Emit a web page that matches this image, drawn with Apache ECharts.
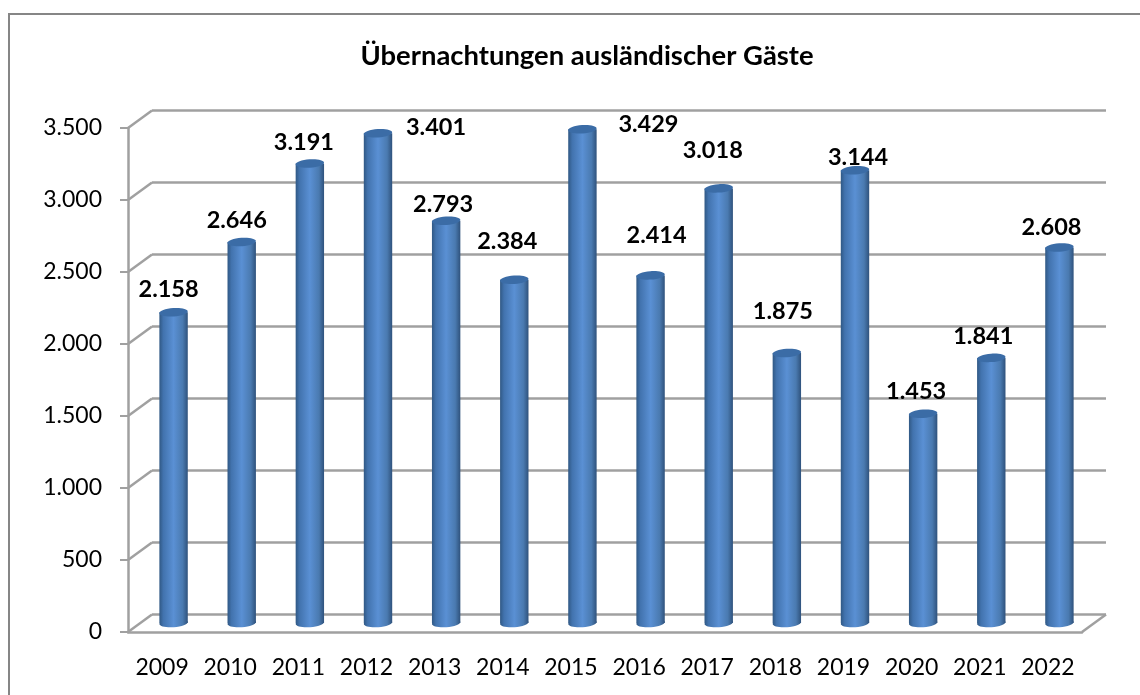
<!DOCTYPE html>
<html>
<head>
<meta charset="utf-8">
<title>Übernachtungen ausländischer Gäste</title>
<style>
html,body{margin:0;padding:0;background:#fff;}
#main{width:1140px;height:695px;}
</style>
</head>
<body>
<div id="main"></div>
<script src="https://cdn.jsdelivr.net/npm/echarts@6/dist/echarts.min.js"></script>
<script>
var years = ['2009','2010','2011','2012','2013','2014','2015','2016','2017','2018','2019','2020','2021','2022'];
var guests = [2158,2646,3191,3401,2793,2384,3429,2414,3018,1875,3144,1453,1841,2608];
var valueLabels = ['2.158','2.646','3.191','3.401','2.793','2.384','3.429','2.414','3.018','1.875','3.144','1.453','1.841','2.608'];
var yTicks = [0,500,1000,1500,2000,2500,3000,3500];

// where the labels sit relative to the top of their bar (they are not aligned in the original)
var labelDx = [-5,-5,-6,58,-3,-7,66,6,-6,-4,3,-7,-8,-8];
var labelDy = [-23,-22,-21,-6,-16,-38,-5,-40,-38,-42,-13,-22,-21,-20];

var fontName = 'Lato';
var lineColor = '#a0a0a0';
var depthX = 24, depthY = -17.5;
var barDx = 11.5, barDy = -9, barR = 14.2, capR = 4.2;

function formatNum(v){
  return String(v).replace(/\B(?=(\d{3})+$)/g,'.');
}

var myChart = echarts.init(document.getElementById('main'));

function barFill(){
  return new echarts.graphic.LinearGradient(0,0,1,0,[
    {offset:0,color:'#305884'},
    {offset:0.14,color:'#4273ae'},
    {offset:0.5,color:'#5a90d4'},
    {offset:0.82,color:'#4a7ab0'},
    {offset:1,color:'#2f527c'}
  ]);
}

function renderBar(params,api){
  var i = api.value(0);
  var top = api.coord([i,api.value(1)]);
  var base = api.coord([i,0]);
  var cx = top[0]+barDx, ty = top[1]+barDy, by = base[1]+barDy;
  var tilt = 0.07;
  return {type:'group',silent:true,children:[
    {type:'ellipse',shape:{cx:cx,cy:by,rx:barR,ry:capR},rotation:tilt,originX:cx,originY:by,style:{fill:barFill()}},
    {type:'rect',shape:{x:cx-barR,y:ty,width:barR*2,height:by-ty},style:{fill:barFill()}},
    {type:'ellipse',shape:{cx:cx,cy:ty,rx:barR,ry:capR},rotation:tilt,originX:cx,originY:ty,style:{fill:'#3b6ca6'}},
    {type:'text',style:{
      x:cx+labelDx[i],y:ty+labelDy[i],text:valueLabels[i],
      fill:'#000',font:'bold 23.5px '+fontName,align:'center',verticalAlign:'middle'
    }}
  ]};
}

// slanted lines that join the front axis to the back wall
function renderDepth(params,api){
  var p = api.coord([0,api.value(1)]);
  var x = params.coordSys.x, w = params.coordSys.width;
  var lineStyle = {stroke:lineColor,lineWidth:2.5,fill:null};
  var kids = [{type:'line',shape:{x1:x,y1:p[1],x2:x+depthX,y2:p[1]+depthY},style:lineStyle}];
  if(api.value(1)===0){
    kids.push({type:'line',shape:{x1:x+w,y1:p[1],x2:x+w+depthX,y2:p[1]+depthY},style:lineStyle});
  }
  return {type:'group',silent:true,children:kids};
}

var option = {
  animation:false,
  backgroundColor:'#fff',
  graphic:[{
    type:'rect',z:-1,silent:true,
    shape:{x:9,y:14,width:1300,height:900},
    style:{fill:'none',stroke:'#868686',lineWidth:2}
  }],
  title:{
    text:'Übernachtungen ausländischer Gäste',
    left:582,top:51,textAlign:'center',textVerticalAlign:'middle',
    textStyle:{fontFamily:fontName,fontWeight:'bold',fontSize:27.4,color:'#000'}
  },
  grid:[
    {left:128,top:128,width:954,height:504},
    {left:152,top:110.5,width:954,height:504}
  ],
  xAxis:[
    {
      gridIndex:0,type:'category',data:years,
      axisLine:{lineStyle:{color:lineColor,width:2.5}},
      axisTick:{length:8,lineStyle:{color:lineColor,width:2}},
      axisLabel:{interval:0,margin:24,fontFamily:fontName,fontSize:23,color:'#000'}
    },
    {
      gridIndex:1,type:'category',data:years,
      axisLine:{show:false},axisTick:{show:false},axisLabel:{show:false}
    }
  ],
  yAxis:[
    {
      gridIndex:0,type:'value',min:0,max:3500,interval:500,
      splitLine:{show:false},
      axisLine:{show:true,lineStyle:{color:lineColor,width:2.5}},
      axisTick:{show:true,length:8,lineStyle:{color:lineColor,width:2}},
      axisLabel:{margin:26,padding:[0,0,6,0],formatter:formatNum,fontFamily:fontName,fontSize:23,color:'#000'}
    },
    {
      gridIndex:1,type:'value',min:0,max:3500,interval:500,
      splitLine:{show:true,lineStyle:{color:lineColor,width:2.5}},
      axisLine:{show:false},axisTick:{show:false},axisLabel:{show:false}
    }
  ],
  series:[
    {
      name:'depth',type:'custom',xAxisIndex:0,yAxisIndex:0,z:1,
      renderItem:renderDepth,
      data:yTicks.map(function(v){return [0,v];})
    },
    {
      name:'Übernachtungen',type:'custom',xAxisIndex:0,yAxisIndex:0,z:3,
      renderItem:renderBar,
      data:guests.map(function(v,i){return [i,v];})
    }
  ]
};
myChart.setOption(option);
</script>
</body>
</html>
